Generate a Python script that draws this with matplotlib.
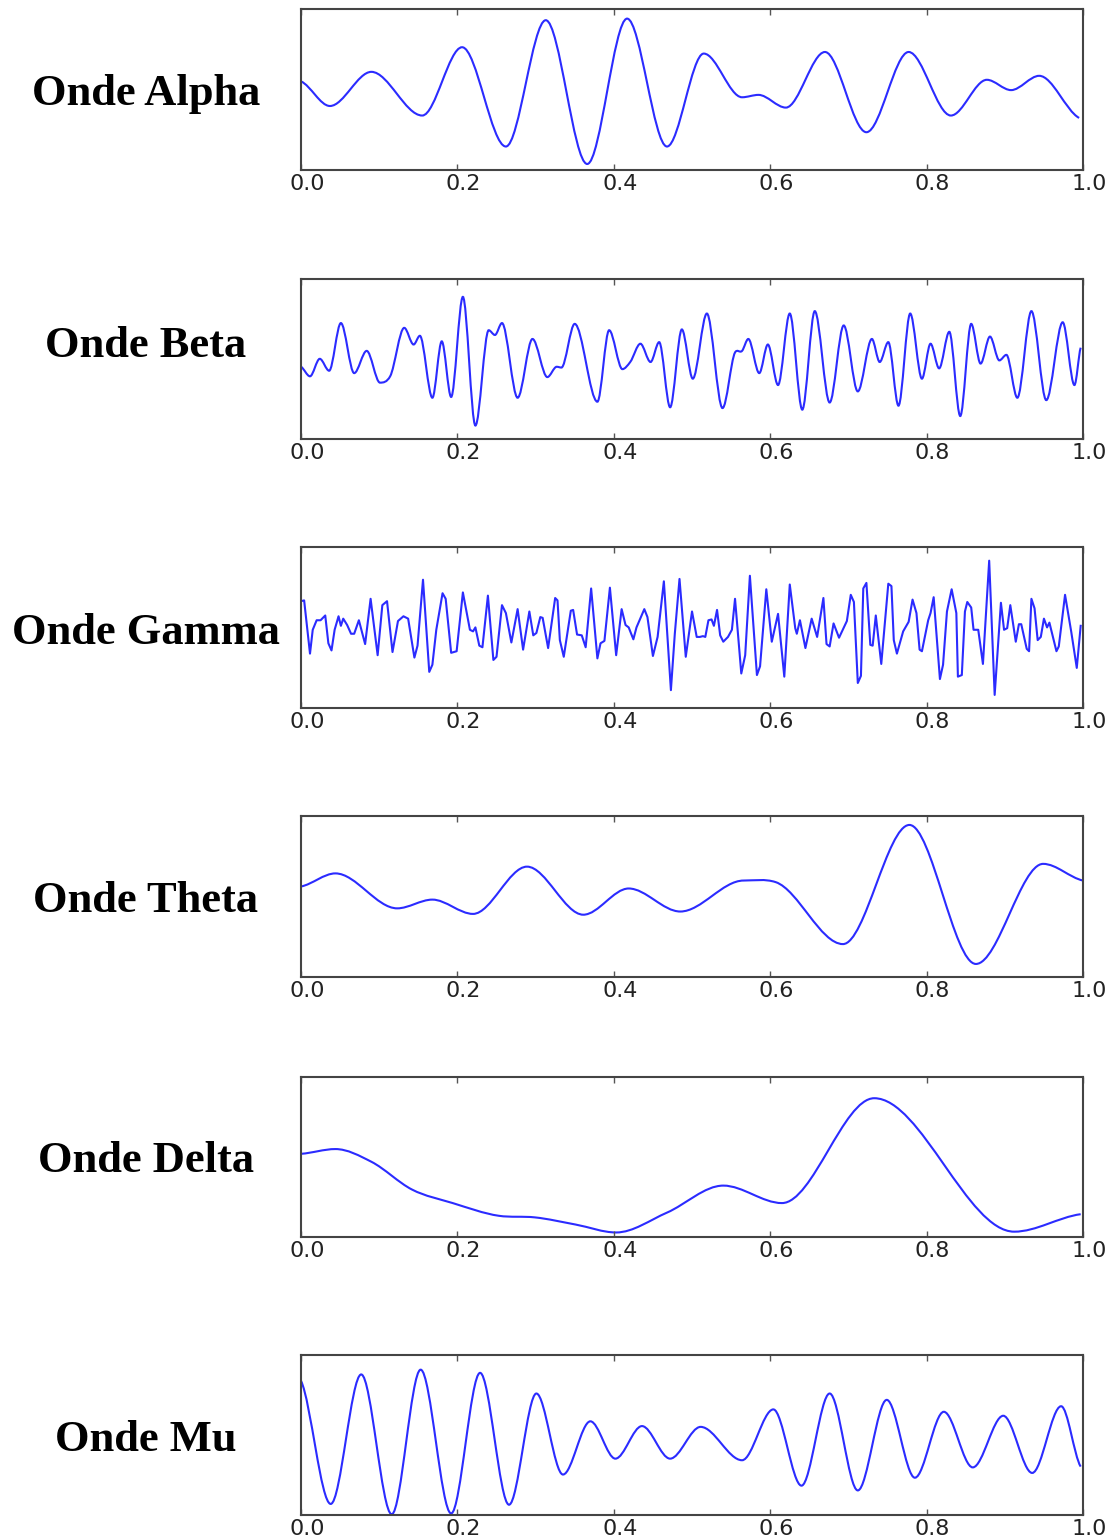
import numpy as np
import matplotlib
matplotlib.use("Agg")
import matplotlib.pyplot as plt
from matplotlib.path import Path
from matplotlib.patches import PathPatch
from matplotlib.transforms import ScaledTranslation

# values (time in s, amplitude in axis units)
alpha_t = [0.0, 0.037, 0.090, 0.155, 0.206, 0.262, 0.313, 0.366, 0.417, 0.468, 0.515,
           0.564, 0.585, 0.620, 0.670, 0.723, 0.777, 0.831, 0.877, 0.908, 0.944, 0.995]
alpha_v = [0.10, -0.21, 0.22, -0.33, 0.53, -0.72, 0.87, -0.94, 0.89, -0.72, 0.45,
           -0.10, -0.07, -0.23, 0.47, -0.54, 0.47, -0.33, 0.12, -0.01, 0.17, -0.36]

beta_t = [0.0, 0.0115, 0.024, 0.036, 0.051, 0.068, 0.084, 0.101, 0.114, 0.132, 0.144,
          0.152, 0.168, 0.180, 0.192, 0.207, 0.223, 0.240, 0.248, 0.257, 0.277, 0.296,
          0.315, 0.327, 0.333, 0.350, 0.379, 0.394, 0.411, 0.421, 0.434, 0.447, 0.458,
          0.472, 0.487, 0.501, 0.519, 0.539, 0.555, 0.564, 0.572, 0.586, 0.597, 0.610,
          0.625, 0.641, 0.657, 0.676, 0.694, 0.712, 0.730, 0.740, 0.751, 0.764, 0.779,
          0.794, 0.805, 0.816, 0.829, 0.843, 0.857, 0.869, 0.881, 0.893, 0.902, 0.916,
          0.934, 0.953, 0.974, 0.989, 0.997]
beta_v = [-0.10, -0.22, 0.0, -0.15, 0.45, -0.18, 0.10, -0.30, -0.22, 0.39, 0.18,
          0.29, -0.49, 0.22, -0.48, 0.78, -0.84, 0.36, 0.30, 0.45, -0.49, 0.25,
          -0.23, -0.10, -0.11, 0.44, -0.54, 0.36, -0.13, -0.04, 0.19, -0.04, 0.21,
          -0.61, 0.37, -0.25, 0.57, -0.62, 0.08, 0.10, 0.25, -0.18, 0.18, -0.33,
          0.57, -0.64, 0.60, -0.55, 0.42, -0.41, 0.25, -0.04, 0.21, -0.59, 0.57,
          -0.25, 0.19, -0.12, 0.34, -0.72, 0.44, -0.06, 0.28, -0.02, 0.05, -0.49,
          0.60, -0.52, 0.46, -0.33, 0.14]

gamma_t = [0.0, 0.004, 0.0115, 0.015, 0.020, 0.025, 0.031, 0.035, 0.039, 0.043, 0.048,
           0.051, 0.054, 0.059, 0.064, 0.068, 0.074, 0.082, 0.089, 0.098, 0.104, 0.110,
           0.117, 0.124, 0.131, 0.137, 0.145, 0.149, 0.156, 0.164, 0.168, 0.173, 0.181,
           0.185, 0.192, 0.199, 0.207, 0.216, 0.220, 0.223, 0.228, 0.232, 0.239, 0.246,
           0.250, 0.257, 0.262, 0.269, 0.277, 0.284, 0.292, 0.297, 0.301, 0.306, 0.309,
           0.316, 0.325, 0.328, 0.331, 0.336, 0.345, 0.348, 0.353, 0.359, 0.364, 0.371,
           0.379, 0.383, 0.388, 0.395, 0.403, 0.410, 0.415, 0.419, 0.425, 0.429, 0.439,
           0.443, 0.450, 0.456, 0.464, 0.473, 0.478, 0.484, 0.492, 0.500, 0.506, 0.510,
           0.514, 0.517, 0.521, 0.525, 0.528, 0.532, 0.536, 0.540, 0.546, 0.551, 0.555,
           0.563, 0.568, 0.574, 0.583, 0.587, 0.595, 0.602, 0.610, 0.618, 0.625, 0.632,
           0.634, 0.638, 0.645, 0.653, 0.660, 0.668, 0.672, 0.676, 0.681, 0.688, 0.698,
           0.703, 0.707, 0.712, 0.716, 0.719, 0.723, 0.728, 0.731, 0.735, 0.742, 0.751,
           0.755, 0.758, 0.762, 0.770, 0.777, 0.782, 0.787, 0.791, 0.794, 0.802, 0.805,
           0.809, 0.817, 0.821, 0.826, 0.832, 0.838, 0.840, 0.845, 0.849, 0.852, 0.857,
           0.860, 0.866, 0.872, 0.880, 0.887, 0.895, 0.899, 0.903, 0.907, 0.914, 0.918,
           0.921, 0.928, 0.931, 0.934, 0.938, 0.942, 0.946, 0.950, 0.954, 0.957, 0.961,
           0.966, 0.969, 0.977, 0.985, 0.992, 0.997]
gamma_v = [0.33, 0.34, -0.33, -0.03, 0.09, 0.09, 0.15, -0.20, -0.29, -0.03, 0.14,
           0.02, 0.11, 0.03, -0.08, -0.08, 0.09, -0.21, 0.36, -0.35, 0.28, 0.33,
           -0.31, 0.08, 0.14, 0.11, -0.38, -0.23, 0.60, -0.56, -0.47, -0.03, 0.43,
           0.36, -0.32, -0.30, 0.44, -0.03, -0.05, 0.00, -0.23, -0.25, 0.40, -0.41,
           -0.37, 0.28, 0.18, -0.19, 0.23, -0.28, 0.20, -0.10, -0.07, 0.13, 0.12,
           -0.26, 0.37, 0.34, -0.16, -0.37, 0.21, 0.22, -0.09, -0.10, -0.25, 0.49,
           -0.39, -0.20, -0.17, 0.50, -0.35, 0.23, 0.03, 0.00, -0.15, 0.00, 0.23,
           0.13, -0.36, -0.12, 0.58, -0.79, -0.08, 0.61, -0.37, 0.20, -0.12, -0.12,
           -0.11, -0.12, 0.09, 0.10, 0.02, 0.22, -0.10, -0.18, -0.12, -0.03, 0.36,
           -0.58, -0.35, 0.65, -0.60, -0.49, 0.48, -0.18, 0.17, -0.62, 0.54, -0.01,
           -0.08, 0.09, -0.26, 0.11, -0.12, 0.37, -0.21, -0.24, 0.05, -0.13, 0.08,
           0.41, 0.32, -0.70, -0.61, 0.49, 0.56, -0.22, -0.23, 0.15, -0.46, 0.55,
           0.52, -0.16, -0.33, -0.05, 0.07, 0.35, 0.18, -0.28, -0.30, 0.09, 0.18,
           0.38, -0.65, -0.47, 0.20, 0.48, 0.18, -0.62, -0.60, 0.20, 0.32, 0.25,
           -0.03, -0.03, -0.46, 0.84, -0.85, 0.31, -0.03, -0.01, 0.28, -0.18, 0.04,
           0.04, -0.27, -0.30, 0.36, 0.24, -0.16, -0.12, 0.11, 0.00, 0.06, -0.10,
           -0.30, -0.24, 0.41, -0.06, -0.51, 0.02]

theta_t = [0.0, 0.044, 0.123, 0.168, 0.220, 0.289, 0.361, 0.419, 0.485, 0.566, 0.607,
           0.693, 0.778, 0.863, 0.949, 1.0]
theta_v = [0.125, 0.29, -0.15, -0.04, -0.22, 0.375, -0.23, 0.10, -0.19, 0.20, 0.18,
           -0.60, 0.90, -0.85, 0.41, 0.20]

delta_t = [0.0, 0.044, 0.090, 0.142, 0.194, 0.253, 0.299, 0.351, 0.403, 0.468, 0.540,
           0.615, 0.733, 0.912, 0.997]
delta_v = [0.04, 0.10, -0.06, -0.41, -0.58, -0.74, -0.76, -0.85, -0.95, -0.70, -0.36,
           -0.58, 0.74, -0.94, -0.72]

mu_t = [0.0, 0.038, 0.077, 0.116, 0.153, 0.192, 0.229, 0.266, 0.301, 0.335, 0.370,
        0.402, 0.436, 0.472, 0.511, 0.564, 0.604, 0.640, 0.676, 0.712, 0.749, 0.785,
        0.822, 0.859, 0.898, 0.935, 0.972, 0.997]
mu_v = [0.68, -0.87, 0.76, -1.0, 0.82, -0.99, 0.78, -0.88, 0.52, -0.50, 0.17,
        -0.30, 0.11, -0.30, 0.10, -0.32, 0.32, -0.64, 0.52, -0.70, 0.44, -0.54,
        0.29, -0.41, 0.24, -0.48, 0.36, -0.40]

names = ["Onde Alpha", "Onde Beta", "Onde Gamma", "Onde Theta", "Onde Delta", "Onde Mu"]
series = [(alpha_t, alpha_v), (beta_t, beta_v), (gamma_t, gamma_v),
          (theta_t, theta_v), (delta_t, delta_v), (mu_t, mu_v)]
smooth = [True, True, False, True, True, True]

LINE = "#2b2bff"


def smooth_path(x, y):
    # cubic curve through the read points, flat at the peaks and troughs
    x = np.asarray(x, float)
    y = np.asarray(y, float)
    n = len(x)
    h = np.diff(x)
    d = np.diff(y) / h
    m = np.zeros(n)
    m[0] = d[0] * 0.5
    m[-1] = d[-1] * 0.5
    for i in range(1, n - 1):
        if d[i - 1] * d[i] > 0:
            m[i] = (d[i - 1] * h[i] + d[i] * h[i - 1]) / (h[i - 1] + h[i])
    verts = [(x[0], y[0])]
    codes = [Path.MOVETO]
    for i in range(n - 1):
        verts += [(x[i] + h[i] / 3, y[i] + m[i] * h[i] / 3),
                  (x[i + 1] - h[i] / 3, y[i + 1] - m[i + 1] * h[i] / 3),
                  (x[i + 1], y[i + 1])]
        codes += [Path.CURVE4] * 3
    return Path(verts, codes)


fig = plt.figure(figsize=(11.14, 15.4), dpi=100)

bottoms = [0.8899, 0.7149, 0.5405, 0.3658, 0.1966, 0.0162]
label_y = [0.9392, 0.7752, 0.5892, 0.4152, 0.2462, 0.0652]
shift = ScaledTranslation(0.06, 0, fig.dpi_scale_trans)

for k in range(6):
    ax = fig.add_axes([0.2702, bottoms[k], 0.702, 0.1042])
    t, v = series[k]
    if smooth[k]:
        ax.add_patch(PathPatch(smooth_path(t, v), fill=False, edgecolor=LINE, lw=1.5))
    else:
        ax.plot(t, v, color=LINE, lw=1.5)
    ax.set_xlim(0, 1)
    ax.set_ylim(-1.01, 1.01)
    ax.set_xticks([0.0, 0.2, 0.4, 0.6, 0.8, 1.0])
    ax.set_xticklabels(["0.0", "0.2", "0.4", "0.6", "0.8", "1.0"])
    ax.set_yticks([])
    ax.tick_params(axis="x", direction="in", top=True, length=4, width=1,
                   color="#555555", labelsize=16, labelcolor="#222222", pad=3)
    for lab in ax.get_xticklabels():
        lab.set_transform(lab.get_transform() + shift)
    for s in ax.spines.values():
        s.set_color("#444444")
        s.set_linewidth(1.5)
    fig.text(0.131, label_y[k], names[k], ha="center", va="center",
             family="Liberation Serif", weight="bold", fontsize=32)

fig.savefig("out.png", dpi=100)
